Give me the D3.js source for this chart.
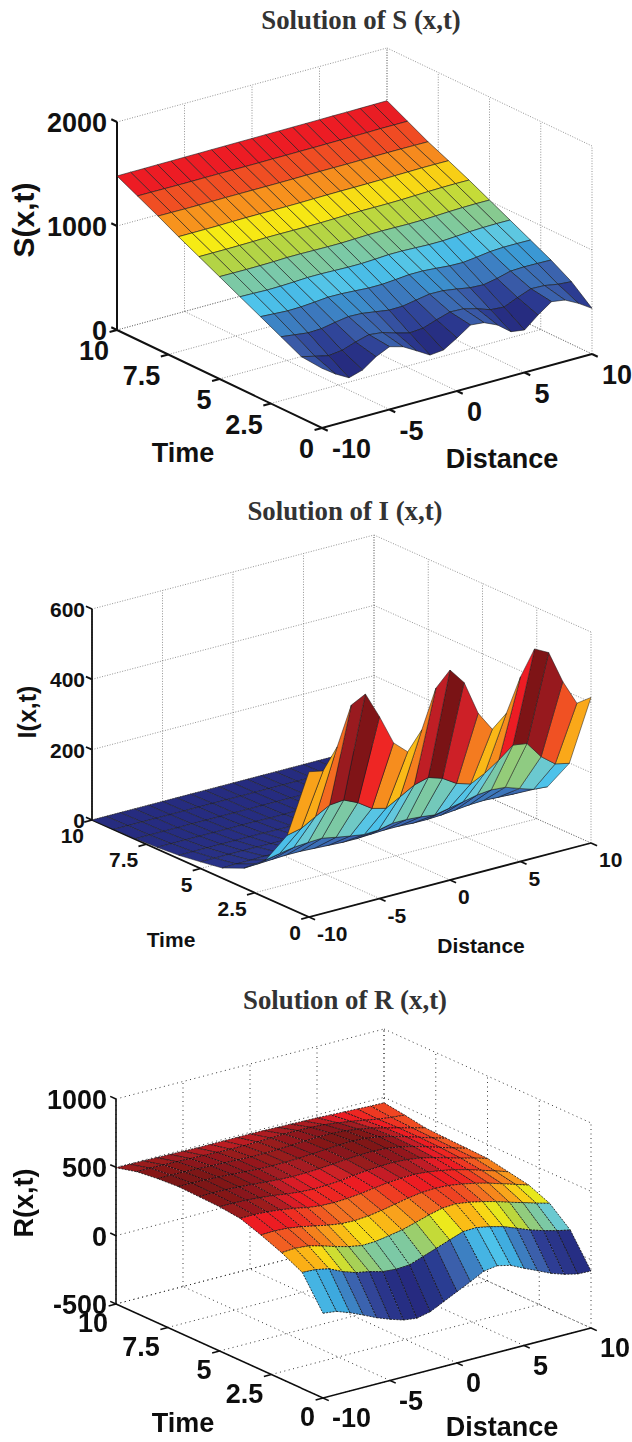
<!DOCTYPE html>
<html>
<head>
<meta charset="utf-8">
<script src="https://cdn.jsdelivr.net/npm/d3@7"></script>
<style>
  html, body { margin: 0; padding: 0; background: #fff; }
  svg { display: block; }
  .tick { font-family: "Liberation Sans", Arial, sans-serif; font-weight: bold; fill: #111; }
  .title { font-family: "Liberation Serif", "Times New Roman", serif; font-weight: bold; fill: #333; text-anchor: middle; }
</style>
</head>
<body>
<svg id="chart" width="632" height="1442"></svg>
<script>
  var distanceTicks = [-10, -5, 0, 5, 10];
  var timeTicks = [0, 2.5, 5, 7.5, 10];
  var distanceValues = d3.range(-10, 11);
  var timeValues = d3.range(0, 11);

  var sTicks = [0, 1000, 2000];
  var iTicks = [0, 200, 400, 600];
  var rTicks = [-500, 0, 500, 1000];

  // rows are t = 0 .. 10, columns are x = -10 .. 10
  var sValues = [
    [574, 484, 412, 451, 543, 604, 568, 494, 417, 430, 510, 599, 586, 528, 428, 409, 517, 610, 590, 523, 439],
    [591, 560, 530, 545, 590, 625, 610, 570, 535, 545, 590, 630, 625, 590, 545, 535, 590, 640, 635, 612, 601],
    [689, 672, 655, 660, 685, 705, 700, 680, 660, 662, 685, 708, 705, 685, 662, 655, 680, 715, 720, 718, 715],
    [788, 780, 772, 775, 785, 797, 795, 787, 778, 778, 788, 800, 800, 790, 778, 775, 790, 808, 815, 815, 813],
    [885, 882, 878, 880, 885, 892, 892, 888, 884, 884, 890, 898, 898, 893, 888, 888, 896, 905, 910, 912, 911],
    [984, 983, 982, 983, 985, 990, 990, 988, 986, 986, 990, 995, 996, 994, 992, 993, 998, 1004, 1008, 1010, 1009],
    [1082, 1082, 1082, 1083, 1085, 1088, 1088, 1087, 1086, 1087, 1090, 1093, 1095, 1094, 1094, 1096, 1100, 1104, 1107, 1108, 1107],
    [1180, 1180, 1180, 1181, 1183, 1185, 1185, 1185, 1185, 1186, 1188, 1190, 1191, 1191, 1192, 1193, 1196, 1198, 1200, 1200, 1199],
    [1284, 1283, 1282, 1282, 1283, 1284, 1284, 1284, 1284, 1284, 1285, 1286, 1286, 1286, 1286, 1287, 1288, 1289, 1289, 1288, 1287],
    [1383, 1383, 1382, 1381, 1381, 1382, 1382, 1382, 1382, 1382, 1383, 1383, 1384, 1384, 1385, 1386, 1387, 1388, 1390, 1390, 1390],
    [1481, 1482, 1482, 1483, 1483, 1484, 1484, 1485, 1485, 1486, 1486, 1487, 1487, 1488, 1488, 1489, 1490, 1490, 1491, 1492, 1493]
  ];

  var iValues = [
    [413, 405, 463, 571, 592, 517, 432, 396, 448, 556, 597, 551, 453, 397, 432, 525, 594, 573, 480, 408, 414],
    [205, 214, 237, 259, 263, 245, 218, 208, 230, 253, 264, 251, 226, 214, 234, 261, 293, 287, 239, 208, 199],
    [107, 115, 122, 125, 127, 119, 112, 106, 108, 117, 117, 114, 109, 117, 125, 134, 138, 135, 121, 108, 105],
    [56, 58, 60, 62, 62, 60, 58, 56, 56, 58, 60, 60, 58, 58, 60, 64, 68, 70, 68, 66, 68],
    [29, 30, 30, 31, 31, 30, 29, 29, 29, 30, 30, 30, 30, 30, 30, 32, 33, 34, 34, 33, 33],
    [19, 19, 19, 19, 19, 18, 18, 18, 18, 18, 19, 19, 18, 18, 18, 19, 19, 20, 20, 19, 19],
    [10, 10, 10, 10, 10, 10, 10, 9, 9, 9, 10, 10, 10, 9, 9, 10, 10, 10, 10, 10, 10],
    [5, 5, 5, 5, 5, 5, 5, 5, 4, 4, 5, 5, 5, 5, 4, 5, 5, 5, 5, 5, 5],
    [2, 2, 2, 2, 2, 2, 2, 2, 2, 2, 2, 2, 2, 2, 2, 2, 2, 2, 2, 2, 2],
    [1, 1, 1, 1, 1, 1, 1, 1, 1, 1, 1, 1, 1, 1, 1, 1, 1, 1, 1, 1, 1],
    [0, 0, 0, 0, 0, 0, 0, 0, 0, 0, 0, 0, 0, 0, 0, 0, 0, 0, 0, 0, 0]
  ];

  var rValues = [
    [120, 108, 73, 30, -15, -52, -83, -96, -74, -26, 22, 69, 120, 135, 112, 65, 22, -23, -56, -79, -83],
    [350, 345, 325, 279, 246, 228, 202, 194, 200, 235, 270, 306, 341, 345, 326, 301, 263, 225, 195, 169, 148],
    [426, 432, 424, 398, 368, 342, 324, 328, 344, 362, 390, 420, 444, 450, 436, 415, 390, 359, 331, 301, 275],
    [487, 490, 485, 470, 450, 430, 415, 412, 420, 435, 455, 475, 490, 495, 490, 475, 455, 430, 400, 370, 339],
    [539, 540, 535, 525, 510, 490, 478, 475, 480, 490, 505, 518, 525, 528, 520, 505, 485, 460, 430, 400, 368],
    [556, 556, 552, 545, 535, 520, 510, 505, 508, 515, 528, 538, 545, 548, 542, 528, 505, 478, 450, 425, 397],
    [561, 562, 560, 555, 548, 540, 532, 528, 530, 535, 542, 552, 558, 560, 555, 540, 518, 490, 460, 430, 402],
    [566, 565, 562, 558, 552, 546, 540, 538, 538, 542, 548, 555, 562, 565, 560, 545, 522, 495, 465, 435, 407],
    [555, 555, 553, 550, 546, 542, 538, 535, 535, 538, 542, 548, 552, 552, 546, 532, 515, 490, 465, 440, 414],
    [537, 537, 535, 533, 530, 527, 524, 522, 522, 524, 527, 530, 530, 528, 522, 510, 495, 478, 460, 448, 439],
    [497, 497, 496, 494, 492, 490, 488, 488, 488, 488, 488, 487, 485, 483, 480, 478, 474, 470, 466, 462, 460]
  ];

  // jet, as it came out of the print colour conversion
  var jetStops = [0, 0.1, 0.17, 0.26, 0.3, 0.35, 0.39, 0.44, 0.49, 0.53, 0.62, 0.67, 0.71, 0.76, 0.807, 0.88, 0.902, 0.922, 0.95, 1];
  var jetColors = ["#262c80", "#2b3990", "#3a5ba8", "#3d85c6", "#3aa4dc", "#4ec3ea", "#66c9dc", "#7cc9a4", "#93cc7a",
    "#b3d445", "#f6ec14", "#fbb217", "#f7941d", "#f47a20", "#f04e23", "#ed1c24", "#ed1c24", "#cf2027", "#9e1b20", "#7a1315"];

  var svg = d3.select("#chart");

  function drawPanel(p) {
    var g = svg.append("g");
    if (p.blur) g.attr("filter", "url(#soft)");

    var xPos = d3.scaleLinear().domain([-10, 10]).range([0, 1]);
    var tPos = d3.scaleLinear().domain([0, 10]).range([0, 1]);
    var zPos = d3.scaleLinear().domain(d3.extent(p.zTicks)).range([0, p.zHeight]);

    function project(x, t, z) {
      var a = xPos(x), b = tPos(t);
      return [
        p.front[0] + a * (p.right[0] - p.front[0]) + b * (p.left[0] - p.front[0]),
        p.front[1] + a * (p.right[1] - p.front[1]) + b * (p.left[1] - p.front[1]) - zPos(z)
      ];
    }
    var line = d3.line();
    var zMin = p.zTicks[0], zMax = p.zTicks[p.zTicks.length - 1];

    // walls and floor
    var grid = g.append("g").attr("fill", "none")
      .attr("stroke", p.gridColor).attr("stroke-width", p.gridWidth).attr("stroke-dasharray", p.gridDash);
    function gridLine(a, b) { grid.append("path").attr("d", line([a, b])); }

    distanceTicks.forEach(function(x) {
      gridLine(project(x, 10, zMin), project(x, 10, zMax));
      gridLine(project(x, 0, zMin), project(x, 10, zMin));
    });
    timeTicks.forEach(function(t) {
      gridLine(project(10, t, zMin), project(10, t, zMax));
      gridLine(project(-10, t, zMin), project(10, t, zMin));
    });
    p.zTicks.forEach(function(z) {
      gridLine(project(-10, 10, z), project(10, 10, z));
      gridLine(project(10, 10, z), project(10, 0, z));
    });

    // axes
    var axes = g.append("g").attr("fill", "none").attr("stroke", "#111").attr("stroke-width", p.axisWidth);
    axes.append("path").attr("d", line([project(-10, 10, zMax), project(-10, 10, zMin), project(-10, 0, zMin), project(10, 0, zMin)]));

    distanceTicks.forEach(function(x) {
      axes.append("path").attr("d", line([project(x, 0, zMin), project(x, -0.28, zMin)]));
    });
    timeTicks.forEach(function(t) {
      axes.append("path").attr("d", line([project(-10, t, zMin), project(-10.55, t, zMin)]));
    });
    p.zTicks.forEach(function(z) {
      axes.append("path").attr("d", line([project(-10, 10, z), project(-10, 10.28, z)]));
    });

    // surface, far corner first, each face coloured from its lowest index vertex
    var cExtent = d3.extent(d3.merge(p.values));
    var colorFrac = d3.scaleLinear().domain(cExtent).range([0, 1]);
    var jet = d3.scaleLinear().domain(jetStops).range(jetColors).clamp(true);

    var faces = [];
    d3.range(timeValues.length - 2, -1, -1).forEach(function(j) {
      d3.range(distanceValues.length - 2, -1, -1).forEach(function(i) {
        faces.push({ i: i, j: j });
      });
    });

    g.append("g").selectAll("path").data(faces).join("path")
      .attr("d", function(d) {
        var x0 = distanceValues[d.i], x1 = distanceValues[d.i + 1];
        var t0 = timeValues[d.j], t1 = timeValues[d.j + 1];
        return line([
          project(x0, t0, p.values[d.j][d.i]),
          project(x1, t0, p.values[d.j][d.i + 1]),
          project(x1, t1, p.values[d.j + 1][d.i + 1]),
          project(x0, t1, p.values[d.j + 1][d.i])
        ]) + "Z";
      })
      .attr("fill", function(d) { return jet(colorFrac(p.values[d.j][d.i])); })
      .attr("stroke", p.edgeColor)
      .attr("stroke-width", p.edgeWidth)
      .attr("stroke-dasharray", p.edgeDash)
      .attr("stroke-linejoin", "round");

    // tick labels
    var labels = g.append("g").attr("class", "tick").attr("font-size", p.tickSize);

    p.zTicks.forEach(function(z) {
      var a = project(-10, 10, z);
      labels.append("text").attr("x", p.zLabelX).attr("y", a[1] + p.zLabelDy)
        .attr("text-anchor", "end").text(z);
    });
    distanceTicks.forEach(function(x) {
      var a = project(x, 0, zMin);
      labels.append("text").attr("x", a[0] + p.xLabelOffset[0]).attr("y", a[1] + p.xLabelOffset[1])
        .attr("text-anchor", "start").text(x);
    });
    timeTicks.forEach(function(t) {
      var a = project(-10, t, zMin);
      labels.append("text").attr("x", a[0] + p.tLabelOffset[0]).attr("y", a[1] + p.tLabelOffset[1])
        .attr("text-anchor", "end").text(t);
    });

    labels.append("text").attr("x", p.timeLabel[0]).attr("y", p.timeLabel[1])
      .attr("text-anchor", "middle").text("Time");
    labels.append("text").attr("x", p.distanceLabel[0]).attr("y", p.distanceLabel[1])
      .attr("text-anchor", "middle").text("Distance");
    labels.append("text")
      .attr("transform", "translate(" + p.zLabel[0] + "," + p.zLabel[1] + ") rotate(-90)")
      .attr("text-anchor", "middle").attr("font-size", p.zNameSize).text(p.zName);

    // title stays outside the blurred group
    svg.append("text").attr("class", "title").attr("x", p.titlePos[0]).attr("y", p.titlePos[1])
      .attr("font-size", p.titleSize).text(p.title);
  }

  svg.append("defs").append("filter").attr("id", "soft")
    .attr("x", "-5%").attr("y", "-5%").attr("width", "110%").attr("height", "110%")
    .append("feGaussianBlur").attr("stdDeviation", 0.45);

  drawPanel({
    title: "Solution of S (x,t)", titlePos: [361, 29], titleSize: 26.8,
    zName: "S(x,t)", zNameSize: 30, values: sValues, zTicks: sTicks,
    left: [117, 330], front: [322, 428], right: [592, 354], zHeight: 208,
    tickSize: 27, zLabelX: 107, zLabelDy: 10,
    xLabelOffset: [10, 30], tLabelOffset: [-8, 30],
    timeLabel: [183, 462], distanceLabel: [502, 468], zLabel: [34, 220],
    gridColor: "#666", gridWidth: 0.7, gridDash: "1 1.6",
    axisWidth: 2, edgeColor: "#1a1a1a", edgeWidth: 0.6, edgeDash: null, blur: false
  });

  drawPanel({
    title: "Solution of I (x,t)", titlePos: [345, 520], titleSize: 26.8,
    zName: "I(x,t)", zNameSize: 25, values: iValues, zTicks: iTicks,
    left: [92, 820], front: [309, 917], right: [591, 843], zHeight: 211,
    tickSize: 21, zLabelX: 85, zLabelDy: 8,
    xLabelOffset: [8, 24], tLabelOffset: [-8, 23],
    timeLabel: [171, 947], distanceLabel: [481, 953], zLabel: [36, 712],
    gridColor: "#666", gridWidth: 0.7, gridDash: "1 1.6",
    axisWidth: 1.8, edgeColor: "#1a1a1a", edgeWidth: 0.5, edgeDash: null, blur: false
  });

  drawPanel({
    title: "Solution of R (x,t)", titlePos: [345, 1009], titleSize: 26.8,
    zName: "R(x,t)", zNameSize: 27, values: rValues, zTicks: rTicks,
    left: [116, 1304], front: [323, 1398], right: [591, 1328], zHeight: 205,
    tickSize: 27, zLabelX: 107, zLabelDy: 10,
    xLabelOffset: [9, 29], tLabelOffset: [-8, 28],
    timeLabel: [183, 1432], distanceLabel: [502, 1436], zLabel: [33, 1203],
    gridColor: "#222", gridWidth: 0.9, gridDash: "1 3.5",
    axisWidth: 1.6, edgeColor: "#111", edgeWidth: 0.8, edgeDash: "2 1.2", blur: true
  });
</script>
</body>
</html>
